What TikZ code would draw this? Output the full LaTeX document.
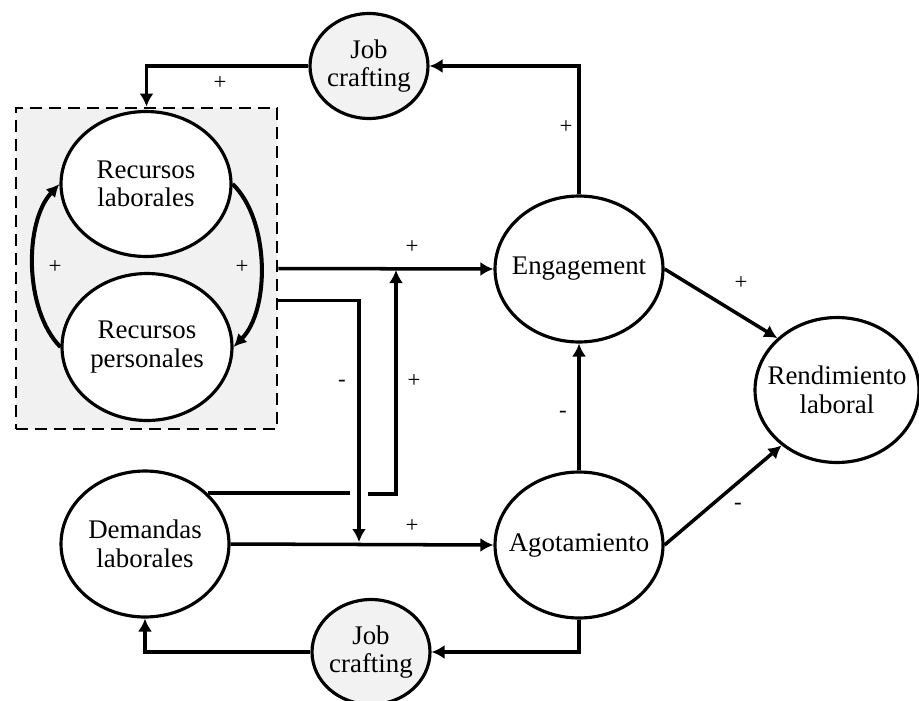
\documentclass[tikz,border=0pt]{standalone}
\usepackage{fontspec}
\setmainfont{Liberation Serif}
\usetikzlibrary{arrows.meta,shapes.geometric,calc}
\definecolor{boxgray}{gray}{0.945}
\definecolor{jcgray}{gray}{0.95}

\begin{document}
\begin{tikzpicture}[x=0.02cm, y=-0.02cm,
		var/.style={ellipse, draw, line width=1.8pt, fill=white, inner xsep=-0.4cm, inner ysep=0pt, align=center,
			minimum width=3.36cm, minimum height=2.92cm, font=\fontsize{15.3}{16.2}\selectfont},
		link/.style={line width=2pt, -{Latex[length=0.26cm, width=0.28cm]}},
		feedback/.style={line width=2.3pt, -{Latex[length=0.26cm, width=0.26cm]}},
		sign/.style={inner sep=0pt, font=\fontsize{13}{15}\selectfont}]
		\useasboundingbox (0,0) rectangle (919,700);
		
		% resources block
		\node[rectangle, draw, dash pattern=on 0.24cm off 0.14cm, line width=1.6pt, fill=boxgray, inner sep=0pt,
			minimum width=5.22cm, minimum height=6.42cm] (box) at (146.5,268.5) {};
		\node[var, minimum width=3.4cm, minimum height=2.9cm] (rl) at (146,184) {Recursos\\laborales};
		\node[var, minimum width=3.4cm, minimum height=2.94cm] (rp) at (147,347) {Recursos\\personales};
		\draw[feedback] (rp.west) .. controls (24,310) and (24,222) .. (rl.west);
		\draw[feedback] (rl.east) .. controls (270,220) and (270,310) .. (rp.east);
		\node[sign] (s10) at (55,267) {+};
		\node[sign] (s11) at (242,267) {+};
		
		\node[var, fill=jcgray, minimum width=2.36cm, minimum height=2.1cm] (jc1) at (369,66) {Job\\crafting};
		\node[var] (dl) at (145,544) {Demandas\\laborales};
		\node[var] (eng) at (579,269) {Engagement};
		\node[var] (ago) at (579,545) {Agotamiento};
		\node[var, minimum width=3.28cm, minimum height=2.9cm] (ren) at (837,390) {Rendimiento\\laboral};
		\node[var, fill=jcgray, minimum width=2.36cm, minimum height=2.1cm] (jc2) at (371,652) {Job\\crafting};
		
		% feedback through job crafting
		\draw[link] (eng.north) |- (jc1.east);
		\draw[link] (jc1.west) -| (box.north);
		\draw[link] (ago.south) |- (jc2.east);
		\draw[link] (jc2.west) -| (dl.south);
		
		% resources and demands
		\coordinate (p1) at ($(box.east)+(0,32)$);
		\coordinate (p2) at (359,542);
		\coordinate (g1) at (350,494);
		\coordinate (g2) at (368,494);
		\coordinate (p3) at (396,270);
		\draw[link] (box.east) -- (eng.west);
		\draw[link] (p1) -| (p2);
		\draw[line width=2pt] (dl.39) -- (dl.39 -| g1);
		\draw[link] (g2) -| (p3);
		\draw[link] (dl.east) -- (ago.west);
		
		\draw[link] (ago.north) -- (eng.south);
		\draw[link] (eng.east) -- (ren.139);
		\draw[link] (ago.east) -- (ren.225);
		
		\node[sign] (s1) at (566,127) {+};
		\node[sign] (s2) at (220,83) {+};
		\node[sign] (s3) at (412,247) {+};
		\node[sign] (s4) at (342,383) {-};
		\node[sign] (s5) at (414,381) {+};
		\node[sign] (s6) at (412,526) {+};
		\node[sign] (s7) at (563,414) {-};
		\node[sign] (s8) at (741,283) {+};
		\node[sign] (s9) at (738,506) {-};
	\end{tikzpicture}
\end{document}
